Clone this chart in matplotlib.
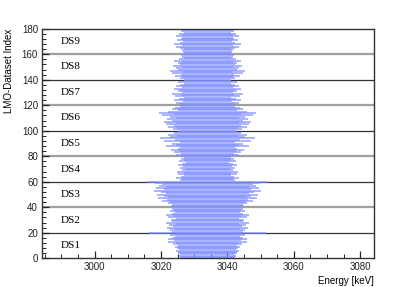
import matplotlib
matplotlib.use("Agg")
import matplotlib.pyplot as plt
from matplotlib.ticker import MultipleLocator
import numpy as np

# ROI centre (keV) and half-widths per LMO channel, grouped by dataset
q_value = 3034.0
ds_names = ["DS1", "DS2", "DS3", "DS4", "DS5", "DS6", "DS7", "DS8", "DS9"]
ds1 = [8.0, 8.3, 8.6, 8.2, 9.0, 8.8, 9.4, 8.5, 9.2, 9.8, 9.0, 10.4, 9.6, 11.8, 10.2, 12.0, 10.8, 9.8, 11.2, 9.6]
ds2 = [17.5, 10.6, 11.4, 9.8, 12.2, 10.4, 11.6, 9.6, 12.4, 10.8, 11.0, 9.4, 11.8, 10.2, 12.6, 10.6, 9.8, 11.2, 10.0, 10.8]
ds3 = [10.2, 11.0, 10.6, 12.0, 11.4, 13.6, 12.2, 14.8, 11.8, 13.0, 15.2, 12.4, 14.0, 16.0, 13.2, 15.4, 12.6, 14.6, 13.8, 15.8]
ds4 = [18.3, 8.2, 7.6, 9.4, 8.0, 7.2, 8.8, 7.0, 9.2, 7.8, 6.8, 8.4, 7.4, 9.0, 7.6, 6.6, 8.6, 7.2, 8.0, 7.0]
ds5 = [7.6, 9.4, 8.0, 10.2, 8.6, 11.0, 9.0, 8.2, 12.6, 9.6, 10.8, 8.4, 13.2, 9.8, 14.2, 11.4, 9.2, 12.0, 10.0, 8.8]
ds6 = [8.6, 10.4, 9.2, 11.8, 10.0, 12.6, 9.4, 13.0, 10.8, 12.2, 9.6, 11.4, 13.6, 10.2, 14.6, 12.0, 9.0, 10.6, 9.8, 8.4]
ds7 = [7.6, 8.2, 9.6, 7.4, 10.0, 8.6, 7.2, 9.8, 8.0, 10.6, 7.8, 9.0, 8.4, 10.2, 7.6, 9.4, 8.2, 7.0, 8.8, 6.8]
ds8 = [7.0, 8.4, 7.6, 9.8, 8.0, 10.6, 7.4, 11.2, 8.8, 9.6, 7.8, 10.4, 8.2, 9.0, 7.6, 10.0, 8.6, 7.2, 7.8, 8.0]
ds9 = [6.8, 7.0, 7.4, 7.8, 7.2, 8.4, 9.6, 7.6, 10.0, 8.2, 7.4, 9.2, 8.0, 7.6, 9.4, 7.8, 8.6, 7.2, 8.0, 7.4]

halfw = np.array(ds1 + ds2 + ds3 + ds4 + ds5 + ds6 + ds7 + ds8 + ds9)
index = np.arange(len(halfw))

fig = plt.figure(figsize=(4.15, 2.87), dpi=100)
ax = fig.add_axes([0.1, 0.1, 0.8, 0.8])

# dataset separators
for k in range(1, 9):
    if k % 2 == 0:
        ax.axhline(20 * k, color="#a0a0a0", lw=1.6, zorder=1)
    else:
        ax.axhline(20 * k, color="#333333", lw=0.9, zorder=1)

ax.hlines(index, q_value - halfw, q_value + halfw, color="#7f8fff", lw=1.1, alpha=0.85, zorder=2)

for i, name in enumerate(ds_names):
    ax.text(2989.8, 20 * i + 10, name, fontsize=8, family="Liberation Serif",
            va="center", ha="left")

ax.set_xlim(2984, 3084)
ax.set_ylim(0, 180)
ax.xaxis.set_major_locator(MultipleLocator(20))
ax.xaxis.set_minor_locator(MultipleLocator(5))
ax.yaxis.set_major_locator(MultipleLocator(20))
ax.yaxis.set_minor_locator(MultipleLocator(4))
ax.tick_params(which="both", direction="in", labelsize=7, colors="#222222")
ax.tick_params(which="major", length=5, width=0.9, pad=2.5)
ax.tick_params(which="minor", length=2.8, width=0.7)
for lab in ax.get_xticklabels() + ax.get_yticklabels():
    lab.set_family("Liberation Sans")
for s in ax.spines.values():
    s.set_color("#333333")
    s.set_linewidth(1.0)

ax.set_xlabel("Energy [keV]", fontsize=7, family="Liberation Sans", loc="right")
ax.set_ylabel("LMO-Dataset Index", fontsize=7, family="Liberation Sans", loc="top")
ax.xaxis.set_label_coords(1.0, -0.075)
ax.yaxis.set_label_coords(-0.082, 1.0)

fig.savefig("out.png", dpi=100)
